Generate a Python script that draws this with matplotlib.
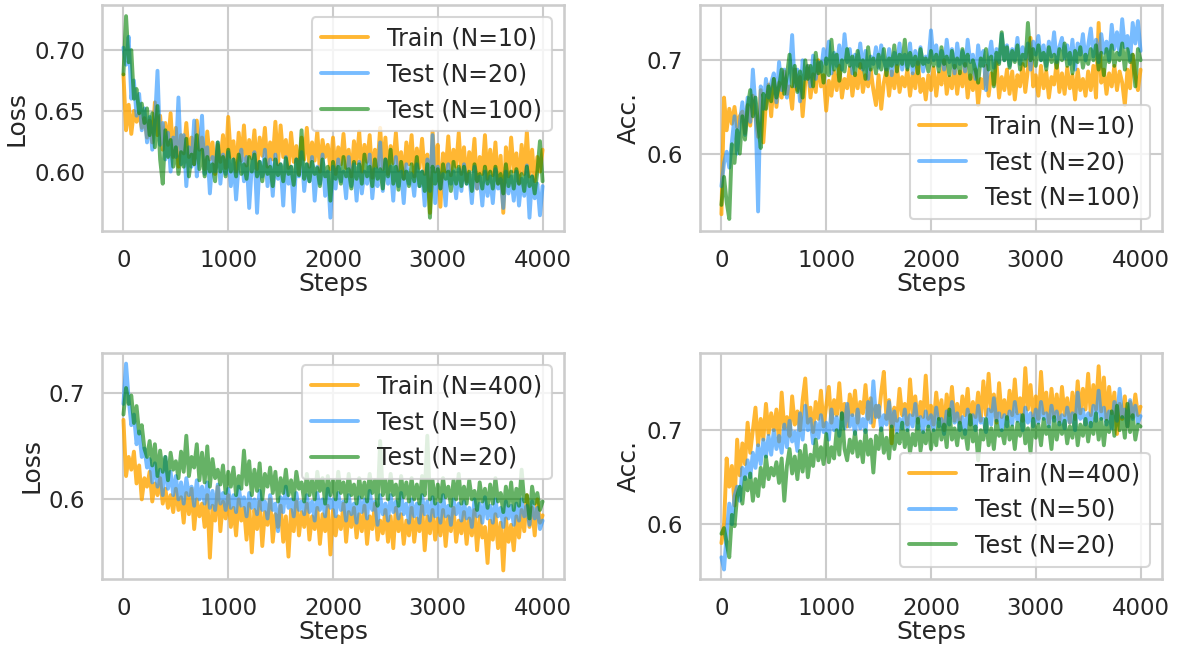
import numpy as np
import matplotlib
matplotlib.use("Agg")
import matplotlib.pyplot as plt
import seaborn as sns

# steps at which every curve was logged
steps = np.arange(0, 4001, 25)

# ---- top left: loss, Train N=10 / Test N=20 / Test N=100
loss_train_10 = [
    0.680, 0.634, 0.655, 0.631, 0.650, 0.641, 0.648, 0.636, 0.644, 0.628,
    0.642, 0.624, 0.657, 0.630, 0.646, 0.618, 0.640, 0.622, 0.648, 0.612,
    0.636, 0.604, 0.630, 0.615, 0.640, 0.612, 0.628, 0.606, 0.642, 0.618,
    0.628, 0.602, 0.633, 0.610, 0.624, 0.598, 0.622, 0.608, 0.630, 0.603,
    0.645, 0.612, 0.625, 0.600, 0.632, 0.609, 0.638, 0.605, 0.626, 0.611,
    0.634, 0.602, 0.628, 0.613, 0.636, 0.604, 0.624, 0.610, 0.641, 0.606,
    0.638, 0.612, 0.626, 0.603, 0.632, 0.608, 0.621, 0.598, 0.628, 0.610,
    0.636, 0.604, 0.624, 0.609, 0.633, 0.600, 0.626, 0.612, 0.622, 0.602,
    0.628, 0.598, 0.620, 0.606, 0.631, 0.603, 0.618, 0.596, 0.625, 0.607,
    0.633, 0.600, 0.622, 0.608, 0.630, 0.595, 0.618, 0.604, 0.636, 0.602,
    0.628, 0.598, 0.621, 0.607, 0.632, 0.601, 0.616, 0.594, 0.624, 0.606,
    0.630, 0.596, 0.619, 0.603, 0.627, 0.598, 0.614, 0.566, 0.633, 0.600,
    0.622, 0.571, 0.615, 0.600, 0.629, 0.597, 0.618, 0.604, 0.632, 0.598,
    0.620, 0.592, 0.616, 0.602, 0.627, 0.586, 0.612, 0.598, 0.630, 0.594,
    0.618, 0.597, 0.624, 0.590, 0.613, 0.566, 0.620, 0.596, 0.628, 0.600,
    0.615, 0.590, 0.622, 0.598, 0.633, 0.596, 0.618, 0.592, 0.612, 0.600,
    0.618]
loss_test_20 = [
    0.702, 0.688, 0.711, 0.660, 0.675, 0.646, 0.664, 0.634, 0.652, 0.624,
    0.645, 0.618, 0.640, 0.683, 0.622, 0.640, 0.610, 0.632, 0.600, 0.628,
    0.612, 0.661, 0.606, 0.630, 0.588, 0.620, 0.604, 0.642, 0.596, 0.618,
    0.646, 0.598, 0.620, 0.582, 0.612, 0.600, 0.624, 0.590, 0.614, 0.598,
    0.616, 0.588, 0.610, 0.577, 0.606, 0.618, 0.592, 0.612, 0.570, 0.604,
    0.616, 0.566, 0.608, 0.596, 0.618, 0.588, 0.610, 0.580, 0.614, 0.594,
    0.606, 0.572, 0.612, 0.590, 0.604, 0.567, 0.610, 0.596, 0.616, 0.584,
    0.606, 0.592, 0.612, 0.576, 0.604, 0.590, 0.614, 0.580, 0.600, 0.562,
    0.604, 0.586, 0.610, 0.592, 0.600, 0.578, 0.612, 0.588, 0.606, 0.576,
    0.608, 0.582, 0.600, 0.590, 0.614, 0.578, 0.602, 0.588, 0.624, 0.584,
    0.610, 0.590, 0.604, 0.576, 0.612, 0.588, 0.600, 0.574, 0.606, 0.590,
    0.598, 0.580, 0.606, 0.588, 0.600, 0.572, 0.610, 0.584, 0.630, 0.574,
    0.604, 0.586, 0.598, 0.572, 0.606, 0.590, 0.600, 0.578, 0.602, 0.584,
    0.606, 0.590, 0.598, 0.574, 0.604, 0.586, 0.596, 0.572, 0.600, 0.580,
    0.596, 0.574, 0.602, 0.586, 0.594, 0.570, 0.600, 0.582, 0.596, 0.576,
    0.600, 0.572, 0.594, 0.580, 0.605, 0.562, 0.596, 0.578, 0.590, 0.564,
    0.588]
loss_test_100 = [
    0.680, 0.728, 0.690, 0.700, 0.660, 0.668, 0.648, 0.656, 0.640, 0.652,
    0.630, 0.648, 0.620, 0.654, 0.610, 0.590, 0.634, 0.612, 0.626, 0.604,
    0.620, 0.598, 0.616, 0.604, 0.627, 0.596, 0.614, 0.606, 0.630, 0.602,
    0.618, 0.596, 0.612, 0.600, 0.606, 0.592, 0.624, 0.600, 0.612, 0.596,
    0.618, 0.600, 0.610, 0.596, 0.614, 0.598, 0.606, 0.594, 0.612, 0.600,
    0.614, 0.596, 0.608, 0.592, 0.610, 0.598, 0.604, 0.588, 0.610, 0.597,
    0.606, 0.592, 0.611, 0.598, 0.604, 0.589, 0.610, 0.597, 0.634, 0.594,
    0.606, 0.592, 0.608, 0.598, 0.603, 0.588, 0.610, 0.596, 0.604, 0.576,
    0.608, 0.594, 0.604, 0.590, 0.612, 0.596, 0.602, 0.586, 0.608, 0.594,
    0.606, 0.590, 0.614, 0.596, 0.604, 0.588, 0.610, 0.594, 0.602, 0.586,
    0.610, 0.596, 0.618, 0.590, 0.604, 0.585, 0.608, 0.594, 0.600, 0.588,
    0.606, 0.592, 0.612, 0.588, 0.600, 0.584, 0.606, 0.562, 0.604, 0.590,
    0.602, 0.586, 0.606, 0.594, 0.600, 0.584, 0.608, 0.590, 0.604, 0.588,
    0.604, 0.590, 0.600, 0.584, 0.606, 0.592, 0.598, 0.586, 0.604, 0.590,
    0.600, 0.586, 0.604, 0.590, 0.598, 0.582, 0.606, 0.588, 0.600, 0.586,
    0.602, 0.590, 0.598, 0.584, 0.604, 0.588, 0.596, 0.582, 0.600, 0.625,
    0.592]

# ---- top right: accuracy, Train N=10 / Test N=20 / Test N=100
acc_train_10 = [
    0.535, 0.660, 0.625, 0.648, 0.632, 0.650, 0.628, 0.640, 0.645, 0.622,
    0.652, 0.630, 0.662, 0.640, 0.618, 0.668, 0.612, 0.655, 0.674, 0.640,
    0.680, 0.650, 0.676, 0.660, 0.688, 0.664, 0.672, 0.648, 0.690, 0.668,
    0.682, 0.640, 0.676, 0.694, 0.660, 0.685, 0.666, 0.700, 0.672, 0.684,
    0.646, 0.678, 0.662, 0.688, 0.668, 0.694, 0.660, 0.680, 0.670, 0.692,
    0.662, 0.686, 0.670, 0.696, 0.666, 0.684, 0.672, 0.690, 0.668, 0.652,
    0.684, 0.648, 0.676, 0.690, 0.662, 0.688, 0.670, 0.694, 0.666, 0.682,
    0.672, 0.690, 0.662, 0.686, 0.670, 0.698, 0.666, 0.680, 0.658, 0.684,
    0.668, 0.692, 0.662, 0.686, 0.674, 0.700, 0.664, 0.682, 0.670, 0.694,
    0.664, 0.688, 0.672, 0.696, 0.660, 0.684, 0.668, 0.690, 0.652, 0.680,
    0.670, 0.694, 0.662, 0.686, 0.674, 0.698, 0.660, 0.682, 0.668, 0.690,
    0.664, 0.688, 0.658, 0.684, 0.672, 0.696, 0.666, 0.690, 0.724, 0.672,
    0.684, 0.662, 0.694, 0.670, 0.688, 0.660, 0.682, 0.674, 0.698, 0.666,
    0.686, 0.664, 0.692, 0.670, 0.684, 0.658, 0.690, 0.668, 0.680, 0.662,
    0.688, 0.668, 0.694, 0.660, 0.740, 0.676, 0.690, 0.664, 0.686, 0.672,
    0.694, 0.668, 0.688, 0.676, 0.652, 0.690, 0.670, 0.706, 0.684, 0.668,
    0.690]
acc_test_20 = [
    0.565, 0.590, 0.602, 0.585, 0.612, 0.640, 0.600, 0.632, 0.655, 0.620,
    0.660, 0.634, 0.690, 0.650, 0.538, 0.672, 0.648, 0.680, 0.660, 0.676,
    0.686, 0.655, 0.698, 0.668, 0.690, 0.660, 0.684, 0.727, 0.672, 0.690,
    0.656, 0.700, 0.680, 0.694, 0.672, 0.705, 0.680, 0.698, 0.688, 0.712,
    0.696, 0.720, 0.686, 0.708, 0.694, 0.716, 0.690, 0.728, 0.698, 0.712,
    0.686, 0.706, 0.694, 0.718, 0.690, 0.710, 0.680, 0.704, 0.696, 0.714,
    0.692, 0.716, 0.700, 0.690, 0.712, 0.684, 0.708, 0.696, 0.718, 0.690,
    0.706, 0.692, 0.718, 0.686, 0.710, 0.696, 0.714, 0.688, 0.704, 0.698,
    0.732, 0.700, 0.716, 0.694, 0.710, 0.690, 0.722, 0.698, 0.712, 0.686,
    0.718, 0.696, 0.710, 0.688, 0.722, 0.698, 0.706, 0.680, 0.716, 0.694,
    0.710, 0.668, 0.702, 0.720, 0.692, 0.712, 0.698, 0.728, 0.700, 0.716,
    0.694, 0.712, 0.700, 0.724, 0.696, 0.714, 0.702, 0.718, 0.690, 0.720,
    0.706, 0.726, 0.700, 0.716, 0.694, 0.720, 0.704, 0.730, 0.698, 0.714,
    0.724, 0.702, 0.716, 0.696, 0.722, 0.690, 0.718, 0.706, 0.728, 0.700,
    0.716, 0.734, 0.704, 0.722, 0.698, 0.728, 0.708, 0.720, 0.700, 0.738,
    0.712, 0.730, 0.706, 0.744, 0.714, 0.726, 0.700, 0.740, 0.718, 0.742,
    0.710]
acc_test_100 = [
    0.545, 0.575, 0.548, 0.530, 0.610, 0.590, 0.625, 0.600, 0.640, 0.615,
    0.650, 0.668, 0.640, 0.660, 0.632, 0.606, 0.664, 0.648, 0.672, 0.656,
    0.680, 0.660, 0.672, 0.690, 0.664, 0.684, 0.706, 0.672, 0.694, 0.666,
    0.688, 0.660, 0.700, 0.680, 0.694, 0.672, 0.708, 0.686, 0.698, 0.676,
    0.702, 0.684, 0.722, 0.690, 0.706, 0.678, 0.700, 0.688, 0.712, 0.694,
    0.704, 0.684, 0.710, 0.692, 0.700, 0.680, 0.714, 0.690, 0.702, 0.686,
    0.706, 0.690, 0.712, 0.684, 0.702, 0.694, 0.716, 0.688, 0.706, 0.696,
    0.722, 0.690, 0.708, 0.694, 0.704, 0.686, 0.712, 0.696, 0.702, 0.688,
    0.710, 0.694, 0.706, 0.688, 0.714, 0.696, 0.704, 0.684, 0.710, 0.692,
    0.702, 0.686, 0.712, 0.694, 0.706, 0.680, 0.700, 0.690, 0.676, 0.702,
    0.694, 0.712, 0.690, 0.704, 0.672, 0.708, 0.696, 0.730, 0.700, 0.714,
    0.692, 0.710, 0.698, 0.716, 0.690, 0.706, 0.694, 0.740, 0.700, 0.712,
    0.694, 0.716, 0.700, 0.708, 0.690, 0.714, 0.698, 0.706, 0.692, 0.712,
    0.700, 0.718, 0.694, 0.708, 0.686, 0.710, 0.698, 0.714, 0.692, 0.706,
    0.696, 0.712, 0.700, 0.716, 0.690, 0.708, 0.684, 0.712, 0.698, 0.716,
    0.694, 0.708, 0.700, 0.718, 0.690, 0.712, 0.698, 0.706, 0.672, 0.712,
    0.700]

# ---- bottom left: loss, Train N=400 / Test N=50 / Test N=20
loss_train_400 = [
    0.675, 0.622, 0.640, 0.628, 0.645, 0.615, 0.632, 0.600, 0.620, 0.612,
    0.626, 0.598, 0.615, 0.604, 0.620, 0.596, 0.610, 0.592, 0.604, 0.588,
    0.610, 0.590, 0.602, 0.578, 0.606, 0.586, 0.610, 0.572, 0.600, 0.584,
    0.596, 0.574, 0.604, 0.545, 0.594, 0.580, 0.612, 0.570, 0.598, 0.582,
    0.604, 0.574, 0.592, 0.566, 0.600, 0.580, 0.592, 0.562, 0.596, 0.550,
    0.590, 0.572, 0.598, 0.556, 0.588, 0.576, 0.600, 0.560, 0.586, 0.574,
    0.594, 0.560, 0.584, 0.546, 0.590, 0.570, 0.598, 0.566, 0.588, 0.574,
    0.596, 0.562, 0.584, 0.572, 0.592, 0.558, 0.586, 0.570, 0.594, 0.548,
    0.590, 0.566, 0.584, 0.572, 0.596, 0.560, 0.588, 0.574, 0.592, 0.564,
    0.586, 0.570, 0.594, 0.558, 0.584, 0.572, 0.596, 0.562, 0.580, 0.568,
    0.590, 0.560, 0.584, 0.554, 0.592, 0.570, 0.586, 0.558, 0.580, 0.566,
    0.592, 0.560, 0.582, 0.570, 0.594, 0.552, 0.584, 0.568, 0.590, 0.562,
    0.582, 0.566, 0.590, 0.556, 0.584, 0.570, 0.592, 0.560, 0.580, 0.568,
    0.588, 0.558, 0.582, 0.566, 0.590, 0.552, 0.584, 0.564, 0.574, 0.540,
    0.580, 0.562, 0.586, 0.554, 0.578, 0.533, 0.582, 0.560, 0.576, 0.552,
    0.584, 0.564, 0.590, 0.570, 0.604, 0.574, 0.592, 0.566, 0.600, 0.578,
    0.585]
loss_test_50 = [
    0.690, 0.728, 0.694, 0.670, 0.680, 0.652, 0.664, 0.640, 0.648, 0.630,
    0.638, 0.616, 0.634, 0.612, 0.628, 0.604, 0.640, 0.610, 0.626, 0.604,
    0.622, 0.600, 0.616, 0.596, 0.620, 0.604, 0.612, 0.594, 0.618, 0.600,
    0.612, 0.596, 0.616, 0.592, 0.608, 0.590, 0.614, 0.596, 0.606, 0.590,
    0.610, 0.592, 0.604, 0.588, 0.612, 0.594, 0.602, 0.584, 0.606, 0.592,
    0.600, 0.586, 0.608, 0.590, 0.598, 0.582, 0.604, 0.590, 0.596, 0.570,
    0.602, 0.588, 0.612, 0.592, 0.600, 0.584, 0.606, 0.590, 0.598, 0.586,
    0.604, 0.588, 0.598, 0.580, 0.606, 0.590, 0.600, 0.584, 0.610, 0.592,
    0.600, 0.584, 0.606, 0.590, 0.598, 0.580, 0.604, 0.586, 0.596, 0.578,
    0.602, 0.588, 0.600, 0.582, 0.608, 0.590, 0.598, 0.576, 0.604, 0.586,
    0.596, 0.580, 0.604, 0.588, 0.598, 0.582, 0.606, 0.586, 0.596, 0.578,
    0.600, 0.584, 0.596, 0.578, 0.604, 0.586, 0.598, 0.580, 0.602, 0.584,
    0.596, 0.578, 0.604, 0.584, 0.594, 0.576, 0.600, 0.586, 0.596, 0.580,
    0.598, 0.582, 0.592, 0.574, 0.600, 0.584, 0.596, 0.578, 0.602, 0.582,
    0.594, 0.578, 0.600, 0.584, 0.592, 0.574, 0.598, 0.582, 0.594, 0.576,
    0.596, 0.580, 0.600, 0.584, 0.594, 0.576, 0.598, 0.582, 0.592, 0.572,
    0.580]
loss_test_20b = [
    0.680, 0.705, 0.690, 0.698, 0.672, 0.688, 0.662, 0.670, 0.648, 0.640,
    0.655, 0.632, 0.652, 0.622, 0.646, 0.626, 0.640, 0.618, 0.644, 0.628,
    0.636, 0.620, 0.645, 0.626, 0.660, 0.622, 0.640, 0.630, 0.652, 0.618,
    0.644, 0.616, 0.650, 0.612, 0.638, 0.620, 0.628, 0.614, 0.632, 0.606,
    0.626, 0.612, 0.630, 0.604, 0.622, 0.610, 0.646, 0.614, 0.636, 0.604,
    0.628, 0.608, 0.634, 0.600, 0.624, 0.612, 0.630, 0.606, 0.626, 0.598,
    0.620, 0.606, 0.628, 0.604, 0.618, 0.600, 0.626, 0.610, 0.616, 0.598,
    0.624, 0.604, 0.618, 0.600, 0.626, 0.608, 0.620, 0.596, 0.622, 0.604,
    0.618, 0.600, 0.626, 0.606, 0.616, 0.598, 0.624, 0.604, 0.614, 0.596,
    0.620, 0.602, 0.616, 0.598, 0.624, 0.606, 0.618, 0.594, 0.655, 0.604,
    0.618, 0.600, 0.624, 0.604, 0.614, 0.594, 0.622, 0.602, 0.616, 0.598,
    0.620, 0.600, 0.614, 0.596, 0.622, 0.604, 0.660, 0.600, 0.618, 0.596,
    0.614, 0.598, 0.620, 0.602, 0.612, 0.594, 0.618, 0.600, 0.624, 0.596,
    0.612, 0.596, 0.618, 0.600, 0.608, 0.590, 0.616, 0.598, 0.610, 0.592,
    0.614, 0.596, 0.620, 0.598, 0.606, 0.588, 0.612, 0.594, 0.616, 0.590,
    0.610, 0.594, 0.628, 0.598, 0.604, 0.582, 0.612, 0.596, 0.606, 0.590,
    0.598]

# ---- bottom right: accuracy, Train N=400 / Test N=50 / Test N=20
acc_train_400 = [
    0.580, 0.600, 0.670, 0.640, 0.662, 0.620, 0.690, 0.652, 0.686, 0.664,
    0.708, 0.676, 0.700, 0.724, 0.684, 0.712, 0.690, 0.728, 0.696, 0.718,
    0.700, 0.722, 0.688, 0.740, 0.702, 0.714, 0.694, 0.736, 0.706, 0.720,
    0.700, 0.732, 0.755, 0.708, 0.724, 0.698, 0.730, 0.712, 0.742, 0.704,
    0.726, 0.746, 0.708, 0.732, 0.716, 0.750, 0.712, 0.728, 0.704, 0.738,
    0.716, 0.742, 0.708, 0.730, 0.718, 0.748, 0.712, 0.734, 0.704, 0.726,
    0.714, 0.740, 0.762, 0.712, 0.732, 0.686, 0.724, 0.710, 0.744, 0.716,
    0.728, 0.706, 0.754, 0.716, 0.736, 0.708, 0.730, 0.714, 0.758, 0.712,
    0.726, 0.706, 0.740, 0.712, 0.732, 0.700, 0.738, 0.716, 0.746, 0.710,
    0.728, 0.708, 0.736, 0.716, 0.744, 0.706, 0.730, 0.714, 0.740, 0.710,
    0.752, 0.716, 0.760, 0.720, 0.738, 0.708, 0.750, 0.714, 0.732, 0.712,
    0.742, 0.716, 0.754, 0.718, 0.734, 0.710, 0.766, 0.722, 0.748, 0.714,
    0.736, 0.712, 0.762, 0.718, 0.740, 0.708, 0.744, 0.714, 0.738, 0.710,
    0.746, 0.716, 0.734, 0.708, 0.740, 0.712, 0.752, 0.718, 0.744, 0.722,
    0.760, 0.716, 0.748, 0.722, 0.768, 0.720, 0.756, 0.712, 0.746, 0.718,
    0.740, 0.696, 0.728, 0.712, 0.736, 0.704, 0.730, 0.714, 0.738, 0.716,
    0.725]
acc_test_50 = [
    0.565, 0.552, 0.590, 0.622, 0.600, 0.630, 0.640, 0.625, 0.660, 0.648,
    0.668, 0.650, 0.676, 0.660, 0.684, 0.664, 0.690, 0.672, 0.694, 0.674,
    0.700, 0.680, 0.694, 0.676, 0.706, 0.682, 0.710, 0.688, 0.698, 0.678,
    0.718, 0.690, 0.726, 0.700, 0.712, 0.686, 0.708, 0.692, 0.716, 0.698,
    0.708, 0.690, 0.722, 0.700, 0.714, 0.694, 0.718, 0.702, 0.728, 0.704,
    0.716, 0.696, 0.722, 0.702, 0.712, 0.698, 0.730, 0.708, 0.752, 0.714,
    0.726, 0.700, 0.716, 0.706, 0.730, 0.704, 0.720, 0.698, 0.712, 0.702,
    0.722, 0.700, 0.716, 0.704, 0.728, 0.702, 0.714, 0.698, 0.720, 0.704,
    0.716, 0.700, 0.724, 0.704, 0.712, 0.696, 0.720, 0.706, 0.730, 0.708,
    0.718, 0.700, 0.714, 0.696, 0.722, 0.706, 0.716, 0.700, 0.726, 0.708,
    0.712, 0.698, 0.722, 0.706, 0.734, 0.710, 0.718, 0.700, 0.716, 0.704,
    0.720, 0.706, 0.730, 0.710, 0.716, 0.700, 0.724, 0.708, 0.718, 0.704,
    0.722, 0.708, 0.730, 0.712, 0.718, 0.704, 0.726, 0.710, 0.720, 0.706,
    0.716, 0.702, 0.724, 0.708, 0.718, 0.700, 0.740, 0.712, 0.722, 0.706,
    0.718, 0.704, 0.726, 0.710, 0.742, 0.712, 0.724, 0.706, 0.720, 0.702,
    0.730, 0.710, 0.744, 0.714, 0.722, 0.704, 0.732, 0.712, 0.726, 0.708,
    0.715]
acc_test_20b = [
    0.590, 0.596, 0.580, 0.565, 0.610, 0.598, 0.630, 0.640, 0.622, 0.650,
    0.636, 0.654, 0.625, 0.648, 0.630, 0.660, 0.640, 0.672, 0.648, 0.660,
    0.652, 0.666, 0.644, 0.670, 0.625, 0.662, 0.680, 0.654, 0.672, 0.648,
    0.678, 0.656, 0.684, 0.650, 0.674, 0.662, 0.690, 0.668, 0.682, 0.664,
    0.696, 0.666, 0.682, 0.670, 0.700, 0.674, 0.718, 0.680, 0.668, 0.690,
    0.676, 0.698, 0.672, 0.688, 0.666, 0.700, 0.674, 0.690, 0.655, 0.694,
    0.680, 0.702, 0.676, 0.692, 0.670, 0.704, 0.680, 0.696, 0.686, 0.708,
    0.682, 0.700, 0.676, 0.696, 0.684, 0.712, 0.678, 0.698, 0.686, 0.704,
    0.680, 0.700, 0.684, 0.712, 0.690, 0.706, 0.682, 0.722, 0.690, 0.702,
    0.684, 0.708, 0.692, 0.700, 0.680, 0.716, 0.688, 0.704, 0.668, 0.700,
    0.690, 0.712, 0.684, 0.702, 0.680, 0.710, 0.694, 0.700, 0.686, 0.714,
    0.690, 0.704, 0.680, 0.708, 0.694, 0.716, 0.686, 0.702, 0.676, 0.712,
    0.692, 0.706, 0.684, 0.712, 0.696, 0.704, 0.680, 0.714, 0.690, 0.708,
    0.696, 0.710, 0.686, 0.704, 0.692, 0.716, 0.684, 0.706, 0.694, 0.712,
    0.688, 0.708, 0.696, 0.718, 0.690, 0.712, 0.684, 0.710, 0.698, 0.720,
    0.694, 0.726, 0.700, 0.714, 0.692, 0.728, 0.698, 0.716, 0.690, 0.706,
    0.704]

sns.set_theme(style="whitegrid", context="talk")
plt.rcParams["axes.labelsize"] = 18
plt.rcParams["legend.fontsize"] = 17

fig, axes = plt.subplots(2, 2, figsize=(11.78, 6.49), dpi=100)
fig.subplots_adjust(left=0.087, right=0.986, bottom=0.108, top=0.992,
                    wspace=0.297, hspace=0.54)


def draw(ax, series, labels, ylabel, loc, ylim, yticks, fmt):
    ax.plot(steps, series[0], color="orange", alpha=0.8, lw=2.8, label=labels[0])
    ax.plot(steps, series[1], color="dodgerblue", alpha=0.6, lw=2.8, label=labels[1])
    ax.plot(steps, series[2], color="green", alpha=0.6, lw=2.8, label=labels[2])
    ax.set_xlabel("Steps", labelpad=0)
    ax.set_ylabel(ylabel, labelpad=4)
    ax.set_xlim(-200, 4200)
    ax.set_xticks([0, 1000, 2000, 3000, 4000])
    ax.set_ylim(*ylim)
    ax.set_yticks(yticks)
    ax.set_yticklabels([fmt.format(t) for t in yticks])
    ax.tick_params(axis="x", pad=4)
    ax.legend(loc=loc)


draw(axes[0, 0], [loss_train_10, loss_test_20, loss_test_100],
     ["Train (N=10)", "Test (N=20)", "Test (N=100)"],
     "Loss", "upper right", (0.551, 0.737), [0.60, 0.65, 0.70], "{:.2f}")
draw(axes[0, 1], [acc_train_10, acc_test_20, acc_test_100],
     ["Train (N=10)", "Test (N=20)", "Test (N=100)"],
     "Acc.", "lower right", (0.517, 0.759), [0.6, 0.7], "{:.1f}")
draw(axes[1, 0], [loss_train_400, loss_test_50, loss_test_20b],
     ["Train (N=400)", "Test (N=50)", "Test (N=20)"],
     "Loss", "upper right", (0.525, 0.738), [0.6, 0.7], "{:.1f}")
draw(axes[1, 1], [acc_train_400, acc_test_50, acc_test_20b],
     ["Train (N=400)", "Test (N=50)", "Test (N=20)"],
     "Acc.", "lower right", (0.542, 0.782), [0.6, 0.7], "{:.1f}")

fig.savefig("out.png", dpi=100)
